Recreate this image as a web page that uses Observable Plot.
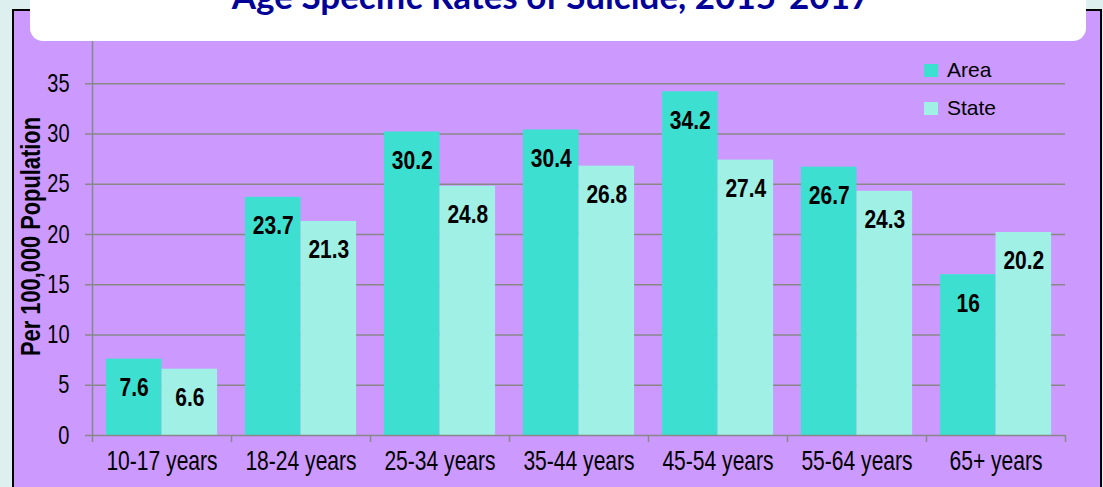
<!DOCTYPE html>
<html>
<head>
<meta charset="utf-8">
<script src="https://cdn.jsdelivr.net/npm/d3@7"></script>
<script src="https://cdn.jsdelivr.net/npm/@observablehq/plot@0.6"></script>
<style>
  html, body { margin: 0; padding: 0; overflow: hidden; }
  body { width: 1103px; height: 487px; background: #ddefee; position: relative; font-family: "Liberation Sans", Arial, sans-serif; }
  #panel { position: absolute; left: 12px; top: 9px; width: 1086px; height: 500px; background: #cc99ff; border: 2px solid #000; }
  #chart { position: absolute; left: 0; top: 0; }
  #titlebox { position: absolute; left: 30px; top: -14px; width: 1056px; height: 55px; background: #fff; border-radius: 13px; overflow: hidden; }
  #titlebox svg { position: absolute; left: -30px; top: 14px; }
  #legend { position: absolute; left: 924px; top: 56px; font-size: 21px; color: #000; }
  .li { position: absolute; left: 0; height: 28px; white-space: nowrap; display: flex; align-items: center; }
  .sw { width: 14px; height: 13px; display: inline-block; margin-right: 9px; }
</style>
</head>
<body>
<div id="panel"></div>
<div id="chart"></div>
<div id="titlebox"></div>
<div id="legend"></div>
<script>
const titleText = "Age Specific Rates of Suicide, 2015-2017";
const categories = ["10-17 years", "18-24 years", "25-34 years", "35-44 years", "45-54 years", "55-64 years", "65+ years"];
const seriesNames = ["Area", "State"];
const areaValues = [7.6, 23.7, 30.2, 30.4, 34.2, 26.7, 16];
const stateValues = [6.6, 21.3, 24.8, 26.8, 27.4, 24.3, 20.2];
const yTicks = [0, 5, 10, 15, 20, 25, 30, 35];
const yLabel = "Per 100,000 Population";
const colors = ["#3de0d0", "#a0f0e6"];

const font = '"Liberation Sans", Arial, sans-serif';

const rows = [];
categories.forEach((c, i) => {
  rows.push({cat: c, i, series: seriesNames[0], k: 0, value: areaValues[i]});
  rows.push({cat: c, i, series: seriesNames[1], k: 1, value: stateValues[i]});
});
const pad = 0.1, half = 0.4;
const boundaries = d3.range(categories.length + 1);
const gray = "#888888";

const chart = Plot.plot({
  width: 1103,
  height: 487,
  marginLeft: 92,
  marginRight: 38,
  marginTop: 33,
  marginBottom: 52,
  style: {background: "none", fontFamily: font, overflow: "visible"},
  x: {domain: [0, categories.length], axis: null},
  y: {domain: [0, 40], axis: null},
  color: {domain: seriesNames, range: colors},
  marks: [
    Plot.ruleY(yTicks.filter(d => d > 0), {y: d => d, stroke: gray, strokeWidth: 1.5, insetLeft: -7}),
    Plot.rectY(rows, {
      x1: d => d.i + pad + d.k * half,
      x2: d => d.i + pad + (d.k + 1) * half,
      y1: 0,
      y2: "value",
      fill: "series"
    }),
    Plot.ruleX([0], {stroke: gray, strokeWidth: 1.5}),
    Plot.ruleY([0], {stroke: gray, strokeWidth: 1.5, insetLeft: -7}),
    Plot.ruleX(boundaries, {x: d => d, y1: 0, y2: 0, insetBottom: -7, stroke: gray, strokeWidth: 1.5}),
    Plot.text(rows, {
      x: d => d.i + pad + (d.k + 0.5) * half,
      y: "value",
      text: d => String(d.value),
      dy: 29,
      fontSize: 25,
      fontWeight: "bold",
      fill: "#000"
    }),
    Plot.text(categories, {
      x: (d, i) => i + 0.5,
      frameAnchor: "bottom",
      text: d => d,
      dy: 34,
      fontSize: 27,
      fill: "#000"
    }),
    Plot.text(yTicks, {
      y: d => d,
      frameAnchor: "left",
      text: d => String(d),
      textAnchor: "end",
      dx: -23,
      fontSize: 25,
      fill: "#000"
    }),
    Plot.text([yLabel], {
      frameAnchor: "left",
      textAnchor: "middle",
      text: d => d,
      rotate: -90,
      dx: -61,
      dy: 2,
      fontSize: 28,
      fontWeight: "bold",
      fill: "#000"
    })
  ]
});
document.getElementById("chart").appendChild(chart);

// Condense text horizontally, as in the reference picture
const squeeze = [0.84, 0.78, 0.8, 0.78];
chart.querySelectorAll('g[aria-label="text"]').forEach((g, gi) => {
  const s = squeeze[gi] ?? 1;
  g.querySelectorAll("text").forEach(el => {
    const tr = el.getAttribute("transform") || "";
    el.setAttribute("transform", tr + ` scale(${s},1)`);
  });
});

// Title (partially hidden at the top, as in the reference)
const ns = "http://www.w3.org/2000/svg";
const tsvg = document.createElementNS(ns, "svg");
tsvg.setAttribute("width", 1103);
tsvg.setAttribute("height", 60);
tsvg.style.overflow = "visible";
const t = document.createElementNS(ns, "text");
t.setAttribute("x", 551);
t.setAttribute("y", 9);
t.setAttribute("text-anchor", "middle");
t.setAttribute("font-family", "Lato, 'Open Sans', sans-serif");
t.setAttribute("font-weight", "bold");
t.setAttribute("font-size", "35");
t.setAttribute("fill", "#000099");
t.textContent = titleText;
tsvg.appendChild(t);
document.getElementById("titlebox").appendChild(tsvg);

// Legend
const legend = document.getElementById("legend");
seriesNames.forEach((s, i) => {
  const item = document.createElement("div");
  item.className = "li";
  item.style.top = (i * 38) + "px";
  const sw = document.createElement("span");
  sw.className = "sw";
  sw.style.background = colors[i];
  const lab = document.createElement("span");
  lab.textContent = s;
  item.appendChild(sw);
  item.appendChild(lab);
  legend.appendChild(item);
});
</script>
</body>
</html>
